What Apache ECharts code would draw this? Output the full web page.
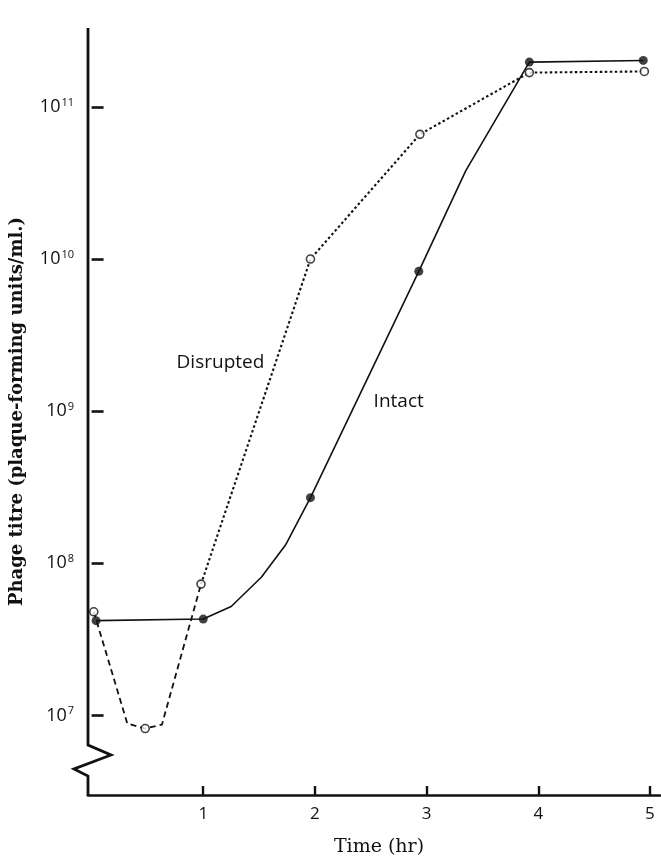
<!DOCTYPE html>
<html>
<head>
<meta charset="utf-8">
<script src="https://cdn.jsdelivr.net/npm/echarts@6/dist/echarts.min.js"></script>
<style>
  html, body { margin: 0; padding: 0; background: #fff; }
  #chart { width: 661px; height: 862px; }
</style>
</head>
<body>
<div id="chart"></div>
<script>
// Phage titre against time, intact vs. disrupted cells

// measured points (hours, plaque-forming units/ml)
const intactHours = [0.04, 1.0, 1.96, 2.93, 3.92, 4.94];
const intactTitre = [4.2e7, 4.3e7, 2.7e8, 8.3e9, 1.97e11, 2.02e11];
const disruptedHours = [0.02, 0.48, 0.98, 1.96, 2.94, 3.92, 4.95];
const disruptedTitre = [4.8e7, 8.2e6, 7.3e7, 1.0e10, 6.6e10, 1.68e11, 1.71e11];

// vertices of the hand-drawn curves through those points
const intactCurveHours = [0.04, 1.0, 1.25, 1.52, 1.74, 1.96, 2.93, 3.35, 3.92, 4.94];
const intactCurveTitre = [4.2e7, 4.3e7, 5.2e7, 8.1e7, 1.33e8, 2.7e8, 8.3e9, 3.8e10, 1.97e11, 2.02e11];
const disruptedCurveHours = [0.02, 0.32, 0.48, 0.63, 0.98, 1.96, 2.94, 3.92, 4.95];
const disruptedCurveTitre = [4.8e7, 8.85e6, 8.2e6, 8.7e6, 7.3e7, 1.0e10, 6.6e10, 1.68e11, 1.71e11];

// axis ticks
const hourTicks = [1, 2, 3, 4, 5];
const titreTicks = [1e7, 1e8, 1e9, 1e10, 1e11];

// curve labels: [text, hours, titre]
const curveLabels = [
  ['Disrupted', 1.154, 2.1e9],
  ['Intact', 2.75, 1.15e9]
];

const xMin = -0.032, xMax = 5.09;
const yMin = 3.0e6, yMax = 3.3e11;

const pairs = (xs, ys) => xs.map((x, i) => [x, ys[i]]);
const INK = '#111';
const SANS = '"Open Sans", Lato, sans-serif';
const SERIF = '"DejaVu Serif", "Liberation Serif", serif';

const chart = echarts.init(document.getElementById('chart'), null, { renderer: 'canvas' });

const disruptedCurve = pairs(disruptedCurveHours, disruptedCurveTitre);
const splitAt = disruptedCurveHours.indexOf(0.98);

chart.setOption({
  animation: false,
  backgroundColor: '#fff',
  grid: { left: 86, right: 1, top: 28, bottom: 59, containLabel: false },
  xAxis: {
    type: 'value',
    min: xMin,
    max: xMax,
    name: 'Time (hr)',
    nameLocation: 'middle',
    nameGap: 43,
    nameTextStyle: { fontFamily: SERIF, fontSize: 19, color: INK, padding: [0, 0, 0, 10] },
    axisLine: { show: true, lineStyle: { color: INK, width: 2.6 } },
    axisTick: { show: true, inside: true, length: 9, lineStyle: { color: INK, width: 2.4 }, customValues: hourTicks },
    axisLabel: { customValues: hourTicks, margin: 11, fontFamily: SANS, fontSize: 17, color: INK },
    splitLine: { show: false }
  },
  yAxis: {
    type: 'log',
    logBase: 10,
    min: yMin,
    max: yMax,
    name: 'Phage titre (plaque-forming units/ml.)',
    nameLocation: 'middle',
    nameGap: 62,
    nameTextStyle: { fontFamily: SERIF, fontSize: 18, fontWeight: 'bold', color: INK },
    axisLine: { show: false },
    axisTick: { show: true, inside: true, length: 12, lineStyle: { color: INK, width: 2.6 }, customValues: titreTicks },
    axisLabel: {
      customValues: titreTicks,
      margin: 14,
      formatter: v => '{b|10}{s|' + Math.round(Math.log10(v)) + '}',
      rich: {
        b: { fontFamily: SANS, fontSize: 18, color: INK, lineHeight: 20 },
        s: { fontFamily: SANS, fontSize: 11, color: INK, lineHeight: 10, verticalAlign: 'top', padding: [0, 0, 8, 1] }
      }
    },
    splitLine: { show: false }
  },
  series: [
    {
      name: 'Intact',
      type: 'line',
      data: pairs(intactCurveHours, intactCurveTitre),
      showSymbol: false,
      symbol: 'none',
      lineStyle: { color: INK, width: 1.6 },
      z: 2
    },
    {
      name: 'Disrupted',
      type: 'line',
      data: disruptedCurve.slice(0, splitAt + 1),
      showSymbol: false,
      symbol: 'none',
      lineStyle: { color: INK, width: 1.8, type: [6, 4] },
      z: 2
    },
    {
      name: 'Disrupted',
      type: 'line',
      data: disruptedCurve.slice(splitAt),
      showSymbol: false,
      symbol: 'none',
      lineStyle: { color: INK, width: 2.1, type: [2.5, 2.5] },
      z: 2
    },
    {
      name: 'Intact points',
      type: 'scatter',
      data: pairs(intactHours, intactTitre),
      symbol: 'circle',
      symbolSize: 9,
      itemStyle: { color: INK },
      z: 4
    },
    {
      name: 'Disrupted points',
      type: 'scatter',
      data: pairs(disruptedHours, disruptedTitre),
      symbol: 'circle',
      symbolSize: 8,
      itemStyle: { color: '#fff', borderColor: INK, borderWidth: 1.6 },
      z: 5
    }
  ]
});

// vertical axis drawn with a break mark near its foot, plus curve labels
const [ax, yTop] = chart.convertToPixel({ gridIndex: 0 }, [xMin, yMax]);
const [, yBot] = chart.convertToPixel({ gridIndex: 0 }, [xMin, yMin]);
const graphics = [{
  type: 'polyline',
  shape: {
    points: [
      [ax, yTop], [ax, yBot - 50], [ax + 23, yBot - 40],
      [ax - 14, yBot - 26], [ax, yBot - 19], [ax, yBot + 1]
    ]
  },
  style: { stroke: INK, lineWidth: 2.8, fill: null, lineJoin: 'miter' },
  z: 10
}];
curveLabels.forEach(([text, h, t]) => {
  const [px, py] = chart.convertToPixel({ gridIndex: 0 }, [h, t]);
  graphics.push({
    type: 'text',
    x: px, y: py,
    style: { text, fontFamily: SANS, fontSize: 19, fill: INK, align: 'center', verticalAlign: 'middle' },
    z: 10
  });
});
chart.setOption({ graphic: graphics });
</script>
</body>
</html>
